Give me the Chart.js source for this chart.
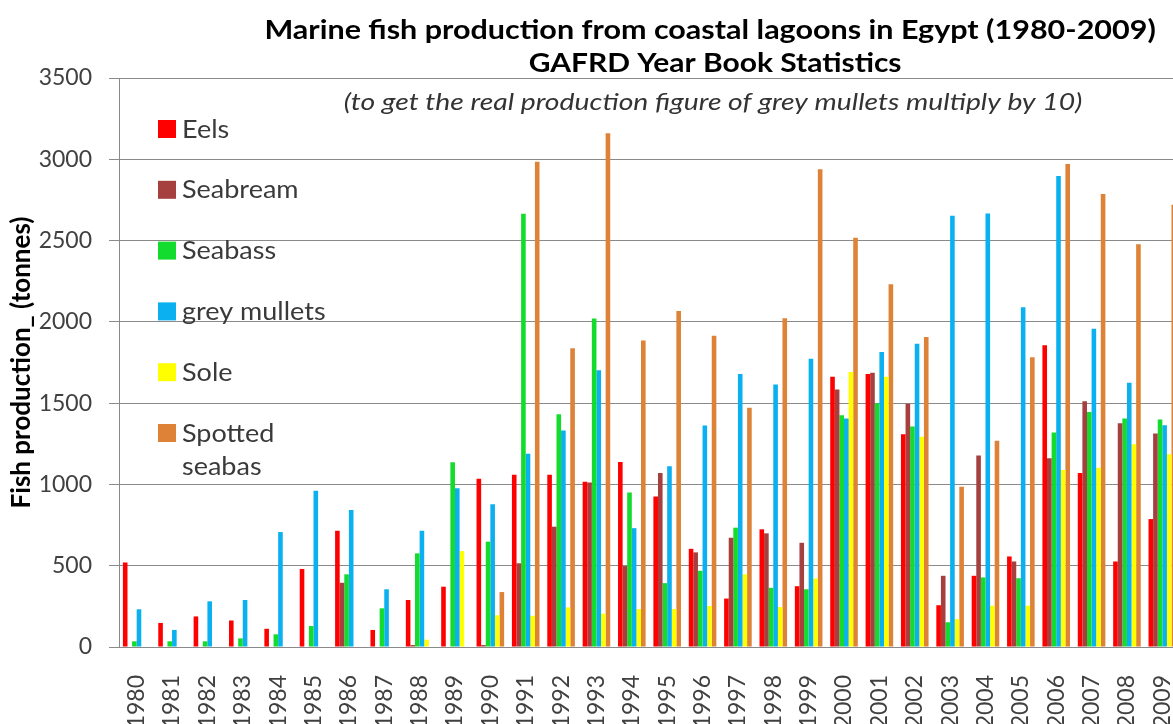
<!DOCTYPE html>
<html>
<head>
<meta charset="utf-8">
<title>Marine fish production from coastal lagoons in Egypt (1980-2009)</title>
<script src="https://cdn.jsdelivr.net/npm/chart.js@4.4.1/dist/chart.umd.min.js"></script>
<style>
  html, body { margin: 0; padding: 0; background: #ffffff; overflow: hidden; }
  #wrap { position: relative; width: 1190px; height: 724px; }
</style>
</head>
<body>
<div id="wrap"><canvas id="chart"></canvas></div>
<script>
// Production in tonnes, GAFRD year book statistics
const years = ['1980','1981','1982','1983','1984','1985','1986','1987','1988','1989',
               '1990','1991','1992','1993','1994','1995','1996','1997','1998','1999',
               '2000','2001','2002','2003','2004','2005','2006','2007','2008','2009'];

const eels        = [520, 148, 188, 163, 112, 480, 715, 105, 289, 371,
                     1035, 1060, 1060, 1017, 1138, 926, 604, 298, 724, 374,
                     1663, 1680, 1308, 257, 438, 557, 1856, 1071, 526, 787];
const seabream    = [0, 0, 0, 0, 0, 0, 395, 0, 12, 0,
                     12, 515, 740, 1012, 498, 1071, 582, 672, 699, 641,
                     1584, 1687, 1496, 438, 1178, 526, 1161, 1511, 1376, 1313];
const seabass     = [35, 35, 35, 53, 78, 129, 447, 238, 576, 1136,
                     648, 2665, 1431, 2021, 950, 393, 469, 734, 364, 355,
                     1425, 1499, 1357, 152, 428, 423, 1320, 1445, 1406, 1399];
const greyMullets = [232, 105, 281, 289, 707, 961, 843, 355, 715, 976,
                     878, 1188, 1331, 1702, 731, 1112, 1362, 1680, 1614, 1773,
                     1406, 1814, 1866, 2653, 2667, 2090, 2897, 1958, 1626, 1364];
const sole        = [0, 0, 0, 0, 0, 0, 0, 0, 45, 590,
                     195, 192, 243, 205, 233, 233, 252, 447, 245, 421,
                     1692, 1663, 1293, 171, 254, 254, 1088, 1103, 1247, 1186];
const spottedSeabas = [0, 0, 0, 0, 0, 0, 0, 0, 0, 0,
                     338, 2985, 1838, 3160, 1886, 2067, 1914, 1472, 2022, 2939,
                     2518, 2232, 1907, 985, 1269, 1782, 2971, 2787, 2477, 2721];

const seriesNames = ['Eels', 'Seabream', 'Seabass', 'grey mullets', 'Sole', 'Spotted seabas'];
const seriesValues = [eels, seabream, seabass, greyMullets, sole, spottedSeabas];
const seriesColors = ['#ff0000', '#a5403f', '#14dc2e', '#0ab0f0', '#ffff00', '#dd8236'];

const titleLines = ['Marine fish production from coastal lagoons in Egypt (1980-2009)',
                    'GAFRD Year Book Statistics'];
const noteLine = '(to get the real production figure of grey mullets multiply by 10)';
const yAxisTitle = 'Fish production_ (tonnes)';

const GRID = '#8a8a8a';
const FONT = 'Lato, "Open Sans", sans-serif';

// draw a line of text centred on cx, widened horizontally by sx
function wideText(ctx, text, cx, y, sx) {
  ctx.save();
  ctx.translate(cx, y);
  ctx.scale(sx, 1);
  ctx.fillText(text, 0, 0);
  ctx.restore();
}

// Title block drawn over the top margin
const titleBlock = {
  id: 'titleBlock',
  afterDraw(chart) {
    const { ctx, chartArea } = chart;
    const cx = chartArea.left + chartArea.width * 0.559;
    ctx.save();
    ctx.textAlign = 'center';
    ctx.textBaseline = 'alphabetic';
    ctx.fillStyle = '#000000';
    ctx.font = 'bold 27px ' + FONT;
    wideText(ctx, titleLines[0], cx - 2, 39, 1.13);
    wideText(ctx, titleLines[1], cx + 3, 72, 1.11);
    ctx.fillStyle = '#333333';
    ctx.font = 'italic 24px ' + FONT;
    wideText(ctx, noteLine, cx + 1, 110, 1.18);
    ctx.restore();
  }
};

// Legend placed inside the plot, top left, one entry per series
const insideLegend = {
  id: 'insideLegend',
  afterDraw(chart) {
    const { ctx, chartArea } = chart;
    const x0 = chartArea.left + 39;
    const box = 18;
    const rowGap = 60.8;
    const lineGap = 33;
    const maxTextWidth = 155;
    const sx = 1.08;
    ctx.save();
    ctx.font = '25px ' + FONT;
    ctx.textBaseline = 'alphabetic';
    ctx.textAlign = 'left';
    chart.data.datasets.forEach((ds, i) => {
      const top = chartArea.top + 42 + i * rowGap;
      ctx.fillStyle = ds.backgroundColor;
      ctx.fillRect(x0, top, box, box);
      // wrap long names onto a second line
      const words = ds.label.split(' ');
      const lines = [];
      let cur = '';
      words.forEach(w => {
        const test = cur ? cur + ' ' + w : w;
        if (cur && ctx.measureText(test).width * sx > maxTextWidth) { lines.push(cur); cur = w; }
        else cur = test;
      });
      lines.push(cur);
      ctx.fillStyle = '#3a3a3a';
      lines.forEach((ln, k) => {
        ctx.save();
        ctx.translate(x0 + box + 6, top + box - 0.5 + k * lineGap);
        ctx.scale(sx, 1);
        ctx.fillText(ln, 0, 0);
        ctx.restore();
      });
    });
    ctx.restore();
  }
};

function build() {
  new Chart(document.getElementById('chart'), {
    type: 'bar',
    data: {
      labels: years,
      datasets: seriesNames.map((name, i) => ({
        label: name,
        data: seriesValues[i],
        backgroundColor: seriesColors[i],
        borderWidth: 0
      }))
    },
    options: {
      responsive: true,
      maintainAspectRatio: false,
      animation: false,
      devicePixelRatio: 1,
      layout: { padding: { top: 78, right: 10, bottom: 0, left: 0 } },
      datasets: { bar: { categoryPercentage: 0.78, barPercentage: 1.0 } },
      plugins: {
        legend: { display: false },
        title: { display: false },
        tooltip: { enabled: false }
      },
      scales: {
        x: {
          grid: { display: false },
          border: { display: true, color: GRID, width: 1 },
          ticks: {
            autoSkip: false, minRotation: 90, maxRotation: 90, padding: 20,
            color: '#404040', font: { family: FONT, size: 23 }
          },
          afterFit(scale) {
            scale.height = 77;
            scale.paddingLeft = 0;
            scale.paddingRight = 0;
          }
        },
        y: {
          min: 0, max: 3500,
          grid: { color: GRID, lineWidth: 1, drawTicks: true, tickLength: 10 },
          border: { display: true, color: GRID, width: 1 },
          ticks: {
            stepSize: 500, padding: 17,
            color: '#404040', font: { family: FONT, size: 23 },
            callback: (value) => String(value)
          },
          title: {
            display: true, text: yAxisTitle, color: '#000000',
            font: { family: FONT, size: 26, weight: 'bold' },
            padding: { top: 6, bottom: 0 }
          },
          afterFit(scale) { scale.width = 119; }
        }
      }
    },
    plugins: [titleBlock, insideLegend]
  });
}

if (document.fonts && document.fonts.load) {
  Promise.all([
    document.fonts.load('23px Lato'),
    document.fonts.load('bold 27px Lato'),
    document.fonts.load('italic 24px Lato')
  ]).then(build, build);
} else {
  build();
}
</script>
</body>
</html>
